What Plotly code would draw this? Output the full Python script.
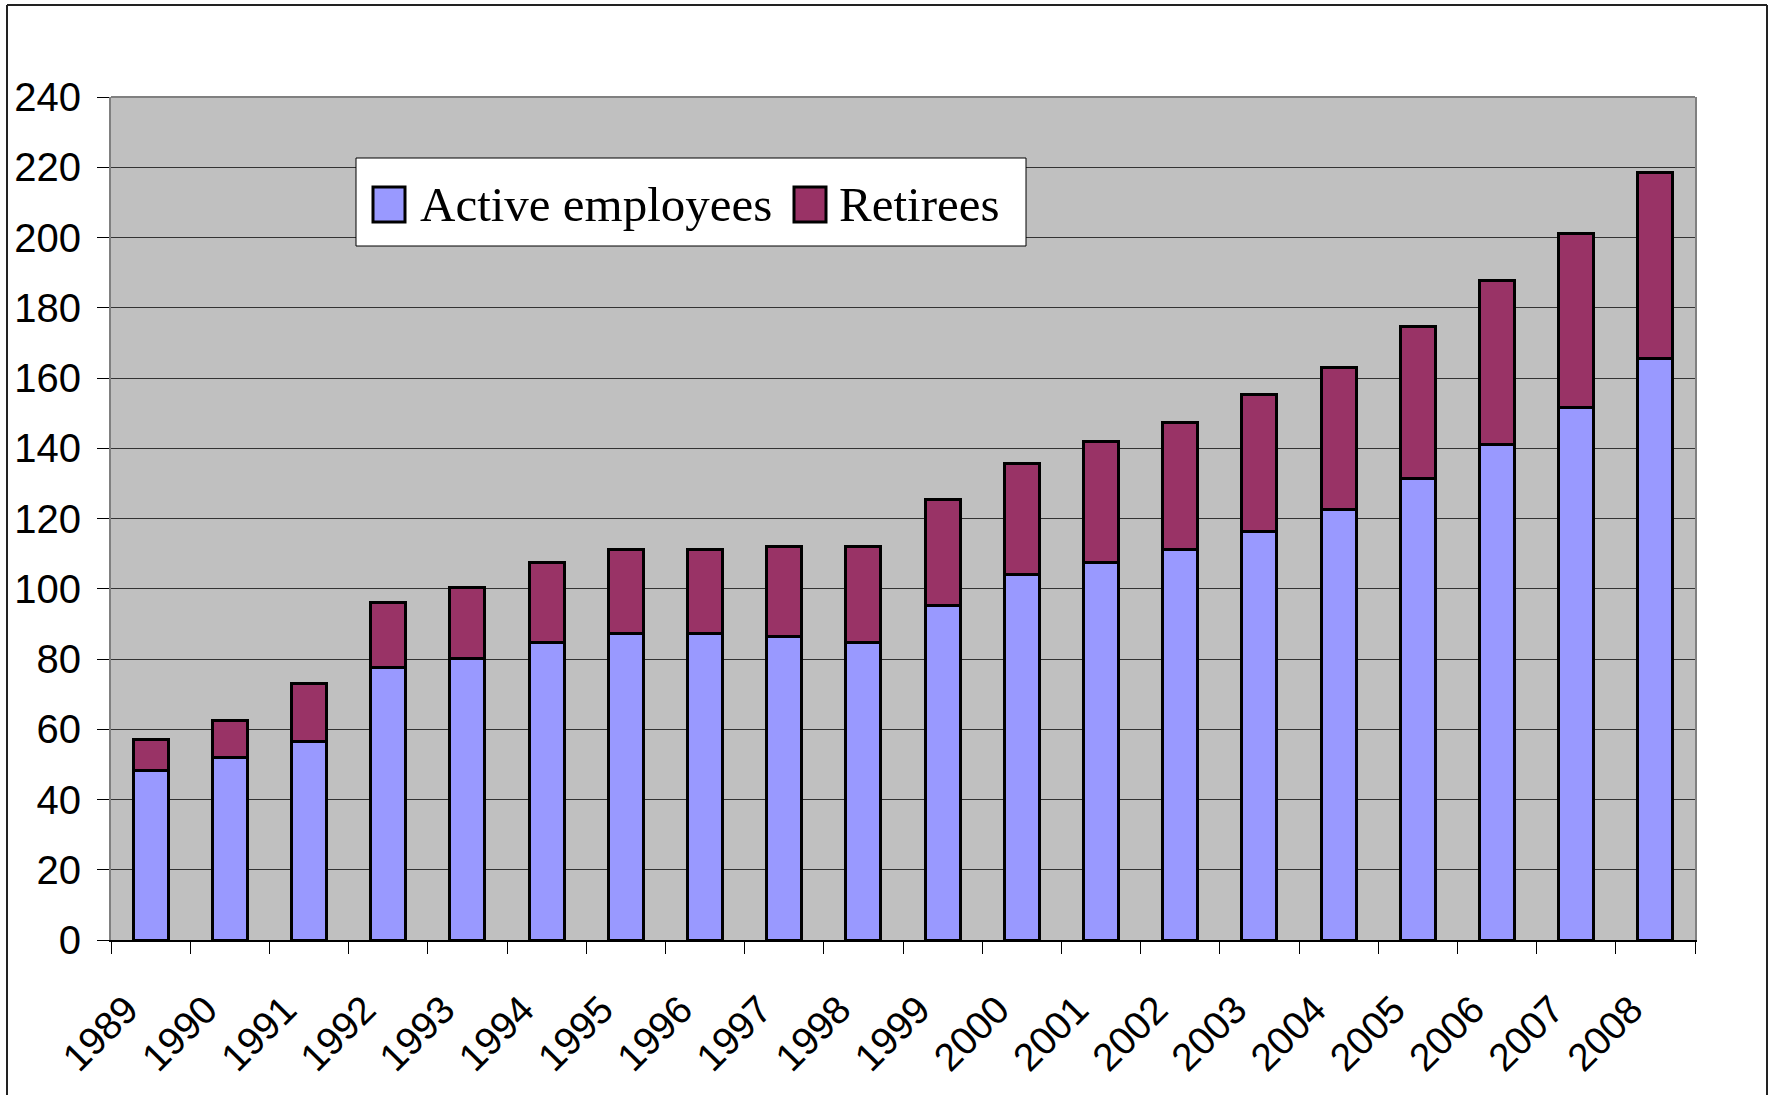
import plotly.graph_objects as go

years = [str(y) for y in range(1989, 2009)]
active = [48.4, 51.9, 56.5, 77.5, 80.1, 84.6, 87.3, 87.3, 86.4, 84.7,
          95.3, 104.1, 107.6, 111.2, 116.4, 122.6, 131.4, 141.0, 151.6, 165.6]
total = [57.2, 62.5, 73.1, 96.0, 100.4, 107.4, 111.2, 111.2, 112.0, 112.0,
         125.3, 135.8, 141.9, 147.3, 155.2, 163.0, 174.6, 187.9, 201.0, 218.6]
retirees = [round(t - a, 1) for t, a in zip(total, active)]
series_names = ["Active employees", "Retirees"]
y_ticks = list(range(0, 241, 20))

COL_ACTIVE = "#9999FF"
COL_RET = "#993366"

W, H = 1774, 1095
L, R, T, B = 111, 1695, 97, 940  # plot area in pixels
pw, ph = R - L, B - T


def px(x):
    return (x - L) / pw


def py(y):
    return (B - y) / ph


fig = go.Figure()
fig.add_trace(go.Bar(x=years, y=active, name=series_names[0],
                     marker=dict(color=COL_ACTIVE, line=dict(color="black", width=3)),
                     width=0.44))
fig.add_trace(go.Bar(x=years, y=retirees, name=series_names[1],
                     marker=dict(color=COL_RET, line=dict(color="black", width=3)),
                     width=0.44))

fig.update_layout(
    barmode="stack",
    width=W, height=H,
    margin=dict(l=L, r=W - R, t=T, b=H - B, pad=0),
    plot_bgcolor="#C0C0C0",
    paper_bgcolor="white",
    font=dict(family="Liberation Sans", color="black"),
    showlegend=False,
    xaxis=dict(
        type="category", tickangle=-45, tickfont=dict(size=39),
        ticks="outside", tickson="boundaries", ticklen=12, tickcolor="black",
        showline=True, linecolor="black", linewidth=2, showgrid=False,
        ticklabelstandoff=29, ticklabelshift=-24,
    ),
    yaxis=dict(
        range=[0, 240], tickvals=y_ticks, tickfont=dict(size=40),
        ticks="outside", ticklen=12, tickcolor="black",
        showline=True, linecolor="#808080", linewidth=2, mirror=True,
        showgrid=True, gridcolor="#333333", gridwidth=1,
        ticklabelstandoff=8, zeroline=False,
    ),
)

# top edge of plot area (gray)
fig.add_shape(type="line", xref="paper", yref="paper", x0=0, x1=1, y0=1, y1=1,
              line=dict(color="#808080", width=2))

# outer chart frame
frame = dict(color="#222222", width=2)
fig.add_shape(type="line", xref="paper", yref="paper", x0=px(7), x1=px(7), y0=py(5), y1=py(1100), line=frame)
fig.add_shape(type="line", xref="paper", yref="paper", x0=px(1767), x1=px(1767), y0=py(5), y1=py(1100), line=frame)
fig.add_shape(type="line", xref="paper", yref="paper", x0=px(7), x1=px(1767), y0=py(5), y1=py(5), line=frame)

# legend box (drawn manually to match the large swatches)
fig.add_shape(type="rect", xref="paper", yref="paper", x0=px(356), x1=px(1026), y0=py(158), y1=py(246),
              fillcolor="white", line=dict(color="black", width=1), layer="above")
legend_items = [
    (series_names[0], COL_ACTIVE, 373, 418),
    (series_names[1], COL_RET, 794, 837),
]
for name, col, sx, tx in legend_items:
    fig.add_shape(type="rect", xref="paper", yref="paper", x0=px(sx), x1=px(sx + 32), y0=py(187), y1=py(222),
                  fillcolor=col, line=dict(color="black", width=3), layer="above")
    fig.add_annotation(xref="paper", yref="paper", x=px(tx), y=py(204), xanchor="left", yanchor="middle",
                       text=name, showarrow=False,
                       font=dict(family="Liberation Serif", size=49, color="black"))

fig.write_html("out.html", config={"displayModeBar": False},
               post_script="document.body.style.margin='0';")
